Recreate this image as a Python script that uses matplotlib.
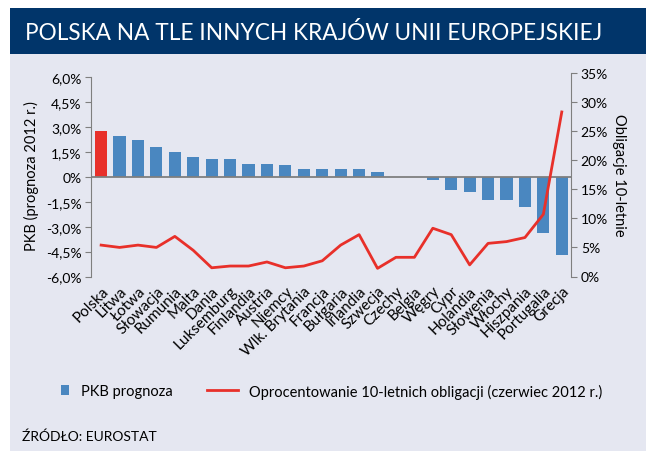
import matplotlib
matplotlib.use("Agg")
import matplotlib.pyplot as plt
from matplotlib.patches import Rectangle
from matplotlib.lines import Line2D
import numpy as np

plt.rcParams['font.family'] = ['Lato', 'DejaVu Sans']

countries = ["Polska", "Litwa", "Łotwa", "Słowacja", "Rumunia", "Malta", "Dania",
             "Luksemburg", "Finlandia", "Austria", "Niemcy", "Wlk. Brytania", "Francja",
             "Bułgaria", "Irlandia", "Szwecja", "Czechy", "Belgia", "Węgry", "Cypr",
             "Holandia", "Słowenia", "Włochy", "Hiszpania", "Portugalia", "Grecja"]
pkb = [2.8, 2.5, 2.25, 1.8, 1.5, 1.2, 1.1, 1.1, 0.8, 0.8, 0.75, 0.5, 0.5,
       0.5, 0.5, 0.3, 0.0, 0.0, -0.2, -0.8, -0.9, -1.4, -1.4, -1.8, -3.35, -4.7]
bonds = [5.4, 5.0, 5.4, 5.0, 6.9, 4.5, 1.5, 1.8, 1.8, 2.5, 1.5, 1.8, 2.7,
         5.4, 7.2, 1.4, 3.3, 3.3, 8.3, 7.2, 2.0, 5.7, 6.0, 6.7, 10.7, 28.3]
left_ticks = [-6.0, -4.5, -3.0, -1.5, 0, 1.5, 3.0, 4.5, 6.0]
left_labels = ["-6,0%", "-4,5%", "-3,0%", "-1,5%", "0%", "1,5%", "3,0%", "4,5%", "6,0%"]
right_ticks = [0, 5, 10, 15, 20, 25, 30, 35]
right_labels = ["0%", "5%", "10%", "15%", "20%", "25%", "30%", "35%"]

W, H = 646, 452
fig = plt.figure(figsize=(W / 100, H / 100), dpi=100)
fig.patch.set_facecolor("white")

BG = "#e5e7f1"
NAVY = "#01356a"
BLUE = "#4a87c0"
RED = "#e8302a"
GRAY = "#7f7f7f"

# panel background and header
fig.add_artist(Rectangle((10 / W, 0), 1 - 10 / W, 1 - 55 / H, transform=fig.transFigure,
                         facecolor=BG, edgecolor="none", zorder=0))
fig.add_artist(Rectangle((10 / W, 1 - 55 / H), 1 - 10 / W, 46 / H, transform=fig.transFigure,
                         facecolor=NAVY, edgecolor="none", zorder=0))
fig.text(25 / W, 1 - 33 / H, "POLSKA NA TLE INNYCH KRAJÓW UNII EUROPEJSKIEJ",
         color="white", fontsize=16.3, va="center", ha="left")

x0, x1 = 91, 571
ytop, ybot = 74, 277.5
ax = fig.add_axes([x0 / W, (H - ybot) / H, (x1 - x0) / W, (ybot - ytop) / H])
ax.set_facecolor("none")
ax2 = ax.twinx()

x = np.arange(len(countries))
colors = [RED if c == "Polska" else BLUE for c in countries]
ax.bar(x, pkb, width=0.66, color=colors, zorder=2)
ax.axhline(0, color=GRAY, lw=1.3, zorder=3)
ax.set_xlim(-0.55, len(countries) - 0.5)
scale = (ybot - ytop - 4.5) / 12.0
ax.set_ylim(-6, 6 + 4.5 / scale)
ax.set_yticks(left_ticks)
ax.set_yticklabels(left_labels, fontsize=10)
ax.set_xticks(x)
ax.set_xticklabels(countries, rotation=45, ha="right", va="top", rotation_mode="anchor",
                   fontsize=11)
ax.tick_params(axis="x", length=0, pad=5)
ax.tick_params(axis="y", length=4, color=GRAY, pad=3)
for s in ["top", "bottom", "right"]:
    ax.spines[s].set_visible(False)
ax.spines["left"].set_color(GRAY)
ax.spines["left"].set_bounds(-6, 6)
ax.set_ylabel("PKB (prognoza 2012 r.)", fontsize=10.5, labelpad=5)

ax2.plot(x, bonds, color=RED, lw=2, zorder=4)
ax2.set_ylim(0, 35)
ax2.set_yticks(right_ticks)
ax2.set_yticklabels(right_labels, fontsize=10)
ax2.tick_params(axis="y", length=4, color=GRAY, pad=3)
for s in ["top", "bottom", "left"]:
    ax2.spines[s].set_visible(False)
ax2.spines["right"].set_color(GRAY)
ax2.spines["right"].set_bounds(0, 35)
ax2.set_ylabel("Obligacje 10-letnie", fontsize=10.5, rotation=-90, labelpad=13)

leg1 = fig.legend([Rectangle((0, 0), 1, 1, facecolor=BLUE, edgecolor="none")], ["PKB prognoza"],
                  loc="center left", bbox_to_anchor=(61 / W, 1 - 392 / H), frameon=False,
                  fontsize=10.5, handlelength=0.55, handleheight=0.75, handletextpad=0.85,
                  borderpad=0, borderaxespad=0)
leg2 = fig.legend([Line2D([], [], color=RED, lw=2)],
                  ["Oprocentowanie 10-letnich obligacji (czerwiec 2012 r.)"],
                  loc="center left", bbox_to_anchor=(207 / W, 1 - 392 / H), frameon=False,
                  fontsize=10.5, handlelength=2.1, handletextpad=0.75,
                  borderpad=0, borderaxespad=0)
fig.text(22 / W, 1 - 437 / H, "ŹRÓDŁO: EUROSTAT", fontsize=10, va="center", ha="left")

fig.savefig("out.png", dpi=100, facecolor="white")
